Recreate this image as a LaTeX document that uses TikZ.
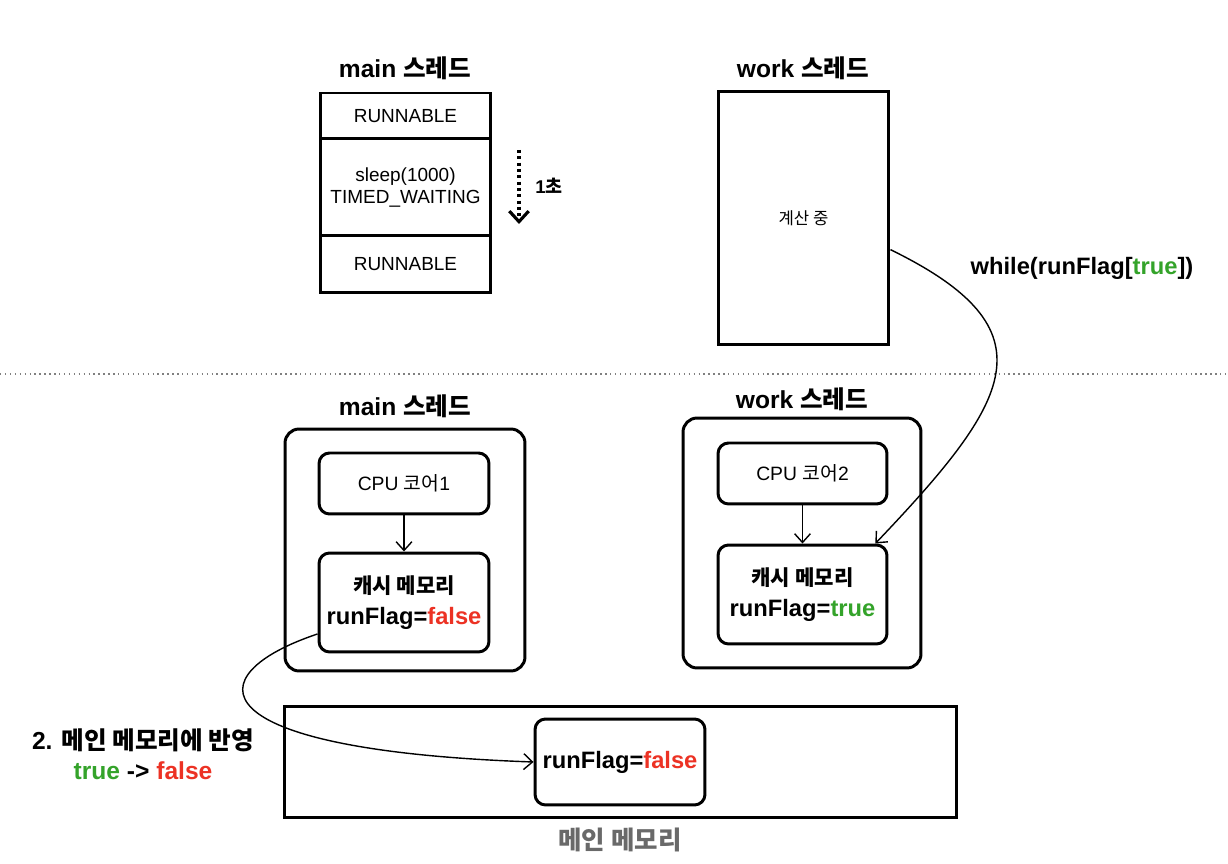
\documentclass[tikz,border=0pt]{standalone}
\usepackage{fontspec}
\setmainfont{Liberation Sans}
\newfontfamily\krfont{Noto Sans CJK KR}
\usepackage{xcolor}
\usepackage{tikz}
\usetikzlibrary{positioning, arrows.meta}

\definecolor{flaggreen}{RGB}{52,163,42}
\definecolor{flagred}{RGB}{236,50,36}
\definecolor{memgray}{RGB}{105,105,105}
\newcommand{\ko}[1]{{\krfont #1}}
\newcommand{\fval}{\textcolor{flagred}{false}}
\newcommand{\tval}{\textcolor{flaggreen}{true}}

\begin{document}
\begin{tikzpicture}[x=0.02cm, y=-0.02cm,
  title/.style={font=\fontsize{14}{16}\selectfont\bfseries},
  statebox/.style={draw, line width=1.7pt, minimum width=3.42cm,
              align=center, font=\fontsize{10.8}{12.5}\selectfont},
  thread/.style={draw, line width=1.7pt, rounded corners=8pt,
              minimum width=4.8cm},
  unit/.style={draw, line width=1.7pt, rounded corners=6pt,
              minimum width=3.4cm, align=center,
              font=\fontsize{11}{13}\selectfont},
  cache/.style={unit, minimum height=1.98cm,
              font=\fontsize{13.5}{16}\selectfont\bfseries},
  arr/.style={-{Straight Barb[length=5pt, width=9pt]}, line width=0.8pt},
  note/.style={font=\fontsize{14}{17}\selectfont\bfseries, align=center}
]
\useasboundingbox (0,0) rectangle (1228,864);

  % Thread states
  \node[title] (mainT) at (405,68) {main \ko{스레드}};
  \node[statebox, minimum height=0.92cm] (run1)  at (405.5,116)   {RUNNABLE};
  \node[statebox, minimum height=1.94cm] (sleep) at (405.5,187.5) {sleep(1000)\\TIMED\_WAITING};
  \node[statebox, minimum height=1.14cm] (run2)  at (405.5,264.5) {RUNNABLE};

  \coordinate (secA) at (519,150);
  \coordinate (secB) at (519,224);
  \draw[line width=1.8pt, dash pattern=on 1.8pt off 1.8pt,
        -{Straight Barb[length=6pt, width=11pt]}] (secA) -- (secB);
  \node[font=\fontsize{10.5}{12}\selectfont\bfseries] (sec) at (549,186) {1\ko{초}};

  \node[title] (workT) at (803,68) {work \ko{스레드}};
  \node[statebox, minimum height=5.08cm, font=\fontsize{9.5}{12}\selectfont] (calc) at (803.5,218) {\ko{계산 중}};

  \node[font=\fontsize{13.5}{16}\selectfont\bfseries] (loop) at (1082,268) {while(runFlag[\tval])};

  % Separator
  \coordinate (sepL) at (0,374);
  \coordinate (sepR) at (1228,374);
  \draw[line width=0.8pt, dotted, gray] (sepL) -- (sepR);

  % Cores and caches
  \node[thread, minimum height=4.84cm] (mainBox) at (405,550) {};
  \node[title, above=2pt of mainBox] (mainT2) {main \ko{스레드}};
  \node[unit, minimum height=1.22cm] (cpu1) at (404,483.5) {CPU \ko{코어}1};
  \node[cache] (cache1) at (404,602.5)
    {{\krfont\fontsize{12}{13}\selectfont 캐시 메모리}\\[1.5pt]\textbf{runFlag=\fval}};
  \draw[arr] (cpu1) -- (cache1);

  \node[thread, minimum width=4.76cm, minimum height=5cm] (workBox) at (802,543) {};
  \node[title, above=0pt of workBox] (workT2) {work \ko{스레드}};
  \node[unit, minimum width=3.38cm, minimum height=1.22cm] (cpu2) at (802.5,473.5) {CPU \ko{코어}2};
  \node[cache, minimum width=3.38cm] (cache2) at (802.5,594.5)
    {{\krfont\fontsize{12}{13}\selectfont 캐시 메모리}\\[1.5pt]\textbf{runFlag=\tval}};
  \draw[arr] (cpu2) -- (cache2);

  % Main memory
  \node[draw, line width=1.7pt, minimum width=13.46cm, minimum height=2.24cm] (mem) at (620.5,762) {};
  \node[cache, minimum height=1.72cm] (memVal) at (620,762) {runFlag=\fval};
  \node[font=\fontsize{14.5}{17}\selectfont\bfseries\krfont, text=memgray] (memL) at (620,840) {메인 메모리};

  % Flows
  \draw[arr] (calc.-20) .. controls (1055,330) and (1012,400) .. (cache2.35);
  \draw[arr] (cache1.200) .. controls (195,675) and (195,750) .. (memVal.west);
  \node[note] (sync) at (143,754) {2. \ko{메인 메모리에 반영}\\\tval{} -> \fval};

\end{tikzpicture}
\end{document}
